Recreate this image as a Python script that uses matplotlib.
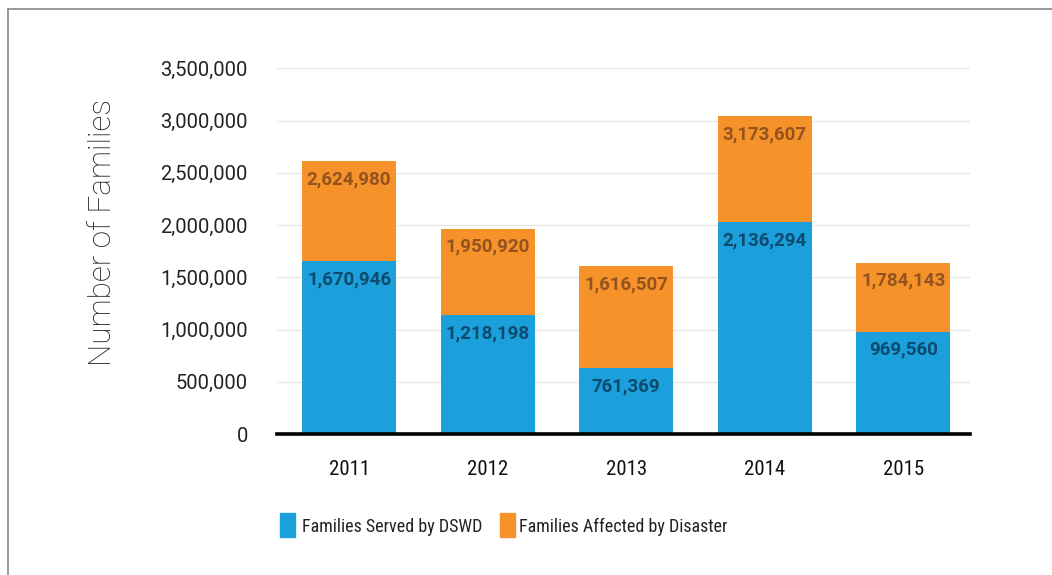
import matplotlib
matplotlib.use("Agg")
import matplotlib.pyplot as plt
from matplotlib.patches import Rectangle
from matplotlib.lines import Line2D
from matplotlib.ticker import FuncFormatter

# Data
years = ["2011", "2012", "2013", "2014", "2015"]
# bar heights as drawn in the picture
served_height = [1654000, 1138000, 631000, 2027000, 978000]
affected_height = [2610000, 1966000, 1606000, 3040000, 1641000]
# numbers printed on the bars
served_labels = [1670946, 1218198, 761369, 2136294, 969560]
affected_labels = [2624980, 1950920, 1616507, 3173607, 1784143]
yticks = [0, 500000, 1000000, 1500000, 2000000, 2500000, 3000000, 3500000]

BLUE = "#1ca0db"
ORANGE = "#f6922a"
BLUE_TXT = "#0c4a6e"
ORANGE_TXT = "#94521f"
narrow = ["Roboto Condensed", "Liberation Sans Narrow", "Roboto", "DejaVu Sans"]

plt.rcParams["font.family"] = ["Roboto", "DejaVu Sans"]

fig = plt.figure(figsize=(10.52, 5.75), dpi=100)
ax = fig.add_axes([277 / 1052, 1 - 434 / 575, 693 / 1052, (434 - 68.3) / 575])

x = list(range(len(years)))
w = 0.678
ax.bar(x, affected_height, width=w, color=ORANGE, zorder=2)
ax.bar(x, served_height, width=w, color=BLUE, zorder=3)

for i in x:
    ax.annotate(f"{affected_labels[i]:,}", (i, affected_height[i]), xytext=(0, -13),
                textcoords="offset points", ha="center", va="center",
                fontsize=13.5, fontweight="bold", color=ORANGE_TXT, zorder=4)
    ax.annotate(f"{served_labels[i]:,}", (i, served_height[i]), xytext=(0, -13),
                textcoords="offset points", ha="center", va="center",
                fontsize=13.5, fontweight="bold", color=BLUE_TXT, zorder=4)

ax.set_xlim(-0.52, 4.48)
ax.set_ylim(0, 3500000)
ax.set_yticks(yticks)
ax.yaxis.set_major_formatter(FuncFormatter(lambda v, p: f"{int(v):,}"))
ax.set_xticks(x)
ax.set_xticklabels(years, family=narrow, fontsize=15, fontweight="normal")
ax.tick_params(axis="y", length=0, pad=21, labelsize=14.5, labelcolor="#222222")
ax.tick_params(axis="x", length=0, pad=19, labelcolor="#111111")
ax.grid(axis="y", color="#e8e8e8", linewidth=1, zorder=0)
ax.set_axisbelow(True)
for s in ax.spines.values():
    s.set_visible(False)
ax.axhline(0, color="black", linewidth=2.6, zorder=5, clip_on=False)

fig.text(102.5 / 1052, 1 - 233 / 575, "Number of Families", rotation=90,
         ha="center", va="center", fontsize=22.6, fontweight="light", color="#1a1a1a")

# legend
for px, tx, col, lab in [(280, 302, BLUE, "Families Served by DSWD"),
                         (500, 519, ORANGE, "Families Affected by Disaster")]:
    fig.add_artist(Rectangle((px / 1052, 1 - 537 / 575), 15 / 1052, 24 / 575,
                             transform=fig.transFigure, color=col))
    fig.text(tx / 1052, 1 - 527 / 575, lab, ha="left", va="center",
             family=narrow, fontsize=13, color="#222222")

# frame lines on the left and top
fig.add_artist(Line2D([7.5 / 1052, 7.5 / 1052], [0, 1 - 9 / 575], transform=fig.transFigure,
                      color="#888888", linewidth=1.2))
fig.add_artist(Line2D([7.5 / 1052, 1], [1 - 9 / 575, 1 - 9 / 575], transform=fig.transFigure,
                      color="#888888", linewidth=1.2))

fig.savefig("out.png", dpi=100)
